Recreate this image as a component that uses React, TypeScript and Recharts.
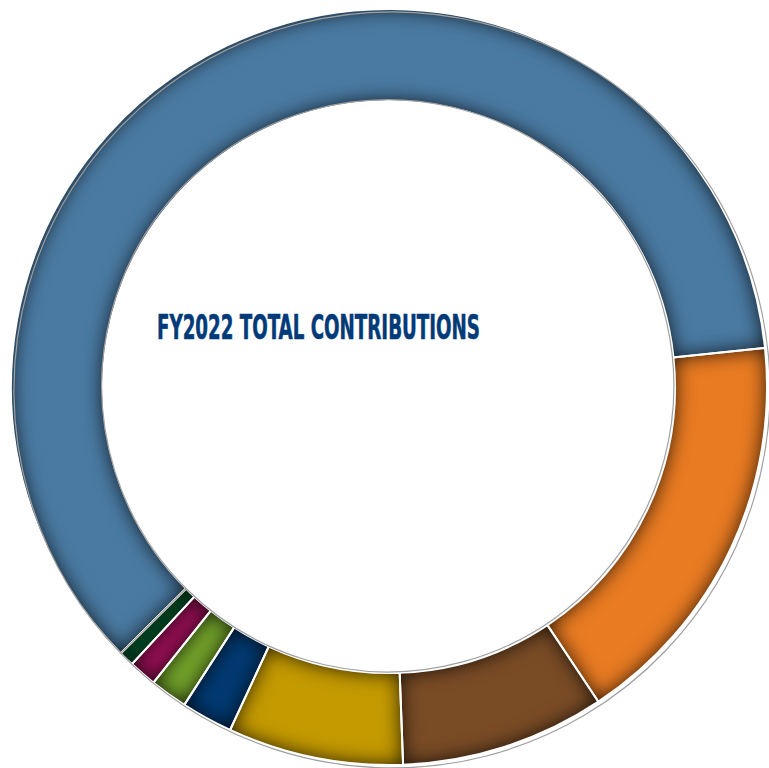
import { Cell, Pie, PieChart } from 'recharts';

const CATEGORIES = [
  'Employer',
  'Employee',
  'State',
  'Federal',
  'Local',
  'Grants',
  'Foundations',
  'Other',
];

// share of the total (percent)
const VALUES = [60.8, 17.3, 8.75, 7.5, 2.2, 1.6, 1.2, 0.65];

const COLORS = [
  '#4a7aa2', // steel blue
  '#e97b22', // orange
  '#7a4c26', // brown
  '#c49a00', // gold
  '#003a72', // navy
  '#74a52b', // light green
  '#a1105a', // magenta
  '#006633', // dark green
];

const TITLE = 'FY2022 TOTAL CONTRIBUTIONS';

const data = CATEGORIES.map((name, i) => ({ name, value: VALUES[i], color: COLORS[i] }));
const ring = [{ name: 'ring', value: 1 }];

const W = 769;
const H = 768;
const CX = 389;
const CY = 387;
const OUTER = 378;
const INNER = 286;
const START = 224.8;

const pieGeometry = {
  cx: CX,
  cy: CY,
  innerRadius: INNER,
  outerRadius: OUTER,
  startAngle: START,
  endAngle: START - 360,
  isAnimationActive: false,
};

export default function App() {
  return (
    <div style={{ position: 'absolute', left: 0, top: 0, width: W, height: H, background: '#fff' }}>
      <svg width={0} height={0} style={{ position: 'absolute' }}>
        <defs>
          <filter
            id="innerShade"
            x="-20%"
            y="-20%"
            width="140%"
            height="140%"
            colorInterpolationFilters="sRGB"
          >
            <feComponentTransfer in="SourceAlpha" result="inv">
              <feFuncA type="table" tableValues="1 0" />
            </feComponentTransfer>
            <feGaussianBlur in="inv" stdDeviation="10" result="blur" />
            <feFlood floodColor="#000000" floodOpacity="0.85" result="col" />
            <feComposite in="col" in2="blur" operator="in" result="shadow" />
            <feComposite in="shadow" in2="SourceAlpha" operator="in" result="inner" />
            <feMerge>
              <feMergeNode in="SourceGraphic" />
              <feMergeNode in="inner" />
            </feMerge>
          </filter>
        </defs>
      </svg>
      <PieChart width={W} height={H} margin={{ top: 0, right: 0, bottom: 0, left: 0 }}>
        {/* shaded slices */}
        <Pie data={data} dataKey="value" nameKey="name" stroke="none" {...pieGeometry}>
          {data.map((d, i) => (
            <Cell key={`cell-${i}`} fill={d.color} filter="url(#innerShade)" />
          ))}
        </Pie>
        {/* white separators */}
        <Pie
          data={data}
          dataKey="value"
          nameKey="name"
          fill="none"
          stroke="#ffffff"
          strokeWidth={2}
          {...pieGeometry}
        />
        {/* grey outline of the ring */}
        <Pie
          data={ring}
          dataKey="value"
          fill="none"
          stroke="#a0a0a0"
          strokeWidth={1.2}
          {...pieGeometry}
        />
      </PieChart>
      <svg
        width={W}
        height={H}
        style={{ position: 'absolute', left: 0, top: 0, pointerEvents: 'none' }}
      >
        <text
          x={157}
          y={339}
          textLength={323}
          lengthAdjust="spacingAndGlyphs"
          fontFamily="'Liberation Sans Narrow', 'DejaVu Sans Condensed', 'Liberation Sans', sans-serif"
          fontWeight="bold"
          fontSize={34}
          fill="#003a78"
          stroke="#003a78"
          strokeWidth={0.6}
        >
          {TITLE}
        </text>
      </svg>
    </div>
  );
}
